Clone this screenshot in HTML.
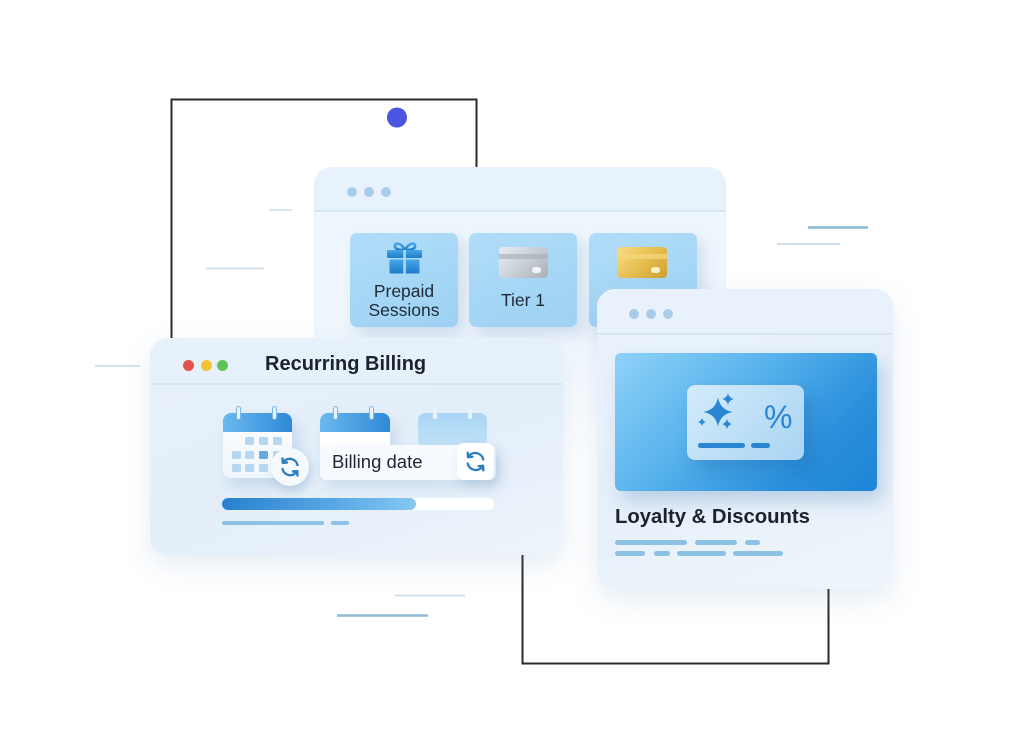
<!DOCTYPE html>
<html><head><meta charset="utf-8">
<style>
*{margin:0;padding:0;box-sizing:border-box}
html,body{width:1024px;height:746px;background:#fff;overflow:hidden;font-family:"Liberation Sans",sans-serif}
.abs{position:absolute}
.win{position:absolute;border-radius:18px;overflow:hidden}
.dot{position:absolute;width:10px;height:10px;border-radius:50%}
.ln{position:absolute;height:5px;border-radius:3px;background:#8cc0e4}
.tile{position:absolute;width:108px;height:94px;border-radius:7px;background:linear-gradient(160deg,#b0ddf8,#9ed1f3);box-shadow:6px 8px 14px rgba(110,150,195,.25)}
.tile .t{position:absolute;left:0;right:0;text-align:center;font-size:17.5px;color:#1f2a38;line-height:18px}
</style></head><body>

<svg class="abs" style="left:0;top:0" width="1024" height="746">
  <polyline points="171.5,340 171.5,99.5 476.5,99.5 476.5,170" fill="none" stroke="#2a2a2a" stroke-width="2"/>
  <polyline points="522.5,550 522.5,663.5 828.5,663.5 828.5,585" fill="none" stroke="#2a2a2a" stroke-width="2"/>
  <line x1="95" y1="366" x2="140" y2="366" stroke="#d3e3ee" stroke-width="2"/>
  <line x1="206" y1="268.5" x2="264" y2="268.5" stroke="#d3e3ee" stroke-width="2"/>
  <line x1="269" y1="210" x2="292" y2="210" stroke="#d8e6f0" stroke-width="2"/>
  <line x1="808" y1="227.5" x2="868" y2="227.5" stroke="#8ab8d4" stroke-width="2.5"/>
  <line x1="777" y1="244" x2="840" y2="244" stroke="#cfe1ee" stroke-width="2"/>
  <line x1="395" y1="595.5" x2="465" y2="595.5" stroke="#cfe1ee" stroke-width="2"/>
  <line x1="337" y1="615.5" x2="428" y2="615.5" stroke="#8fbbd6" stroke-width="2.5"/>
  <circle cx="397" cy="117.5" r="10" fill="#4a55e0"/>
</svg>

<!-- top window (tiers) -->
<div class="win" style="left:314px;top:167px;width:412px;height:300px;border-radius:18px 18px 0 0;background:linear-gradient(180deg,#edf5fd 0%,#f0f6fd 50%,rgba(246,250,254,.6) 80%,rgba(255,255,255,0) 100%)">
  <div class="abs" style="left:0;top:0;width:412px;height:45px;background:#e8f2fc;border-bottom:2px solid #d8e7f4"></div>
  <div class="dot" style="left:33px;top:20px;background:#a8cde9"></div>
  <div class="dot" style="left:50px;top:20px;background:#a8cde9"></div>
  <div class="dot" style="left:67px;top:20px;background:#a8cde9"></div>
</div>

<div class="tile" style="left:350px;top:233px">
  <svg class="abs" style="left:37px;top:8px" width="36" height="33" viewBox="0 0 36 33">
    <defs><linearGradient id="gg" x1="0" y1="0" x2="0" y2="1"><stop offset="0" stop-color="#48a6e6"/><stop offset="1" stop-color="#1f7bcb"/></linearGradient></defs>
    <path d="M18 9 C14 1 7 1 8 6 C9 9 14 9 18 9 C22 9 27 9 28 6 C29 1 22 1 18 9Z" fill="none" stroke="url(#gg)" stroke-width="2.6"/>
    <rect x="0" y="9" width="35" height="8" rx="1.5" fill="url(#gg)"/>
    <rect x="2.5" y="18.5" width="30" height="14" rx="1" fill="url(#gg)"/>
    <rect x="16.3" y="9" width="2.6" height="24" fill="#a9d9f6"/>
  </svg>
  <div class="t" style="top:49px">Prepaid</div>
  <div class="t" style="top:68px">Sessions</div>
</div>
<div class="tile" style="left:469px;top:233px">
  <div class="abs" style="left:30px;top:14px;width:49px;height:31px;border-radius:4px;background:linear-gradient(135deg,#e9edf1 0%,#c9d0d6 50%,#a8b0b8 100%)"></div>
  <div class="abs" style="left:30px;top:21px;width:49px;height:5px;background:#a9b3bc;opacity:.7"></div>
  <div class="abs" style="left:63px;top:34px;width:9px;height:6px;border-radius:3px;background:#f3f5f7"></div>
  <div class="t" style="top:58px">Tier 1</div>
</div>
<div class="tile" style="left:589px;top:233px">
  <div class="abs" style="left:28px;top:14px;width:50px;height:31px;border-radius:4px;background:linear-gradient(135deg,#f7dc85 0%,#e7bf52 50%,#cf9f30 100%)"></div>
  <div class="abs" style="left:28px;top:21px;width:50px;height:5px;background:#f2d47a;opacity:.8"></div>
  <div class="abs" style="left:62px;top:34px;width:9px;height:6px;border-radius:3px;background:#fbefc4"></div>
</div>

<!-- Recurring Billing window -->
<div class="win" style="left:150px;top:338px;width:413px;height:217px;background:linear-gradient(160deg,#e9f2fc 0%,#e3eef9 50%,#edf4fb 100%);box-shadow:0 10px 28px rgba(110,150,195,.18)">
  <div class="abs" style="left:0;top:0;width:413px;height:47px;background:#e7f1fb;border-bottom:2px solid #d5e5f3"></div>
  <div class="dot" style="left:33px;top:22px;width:11px;height:11px;background:#e2514a"></div>
  <div class="dot" style="left:51px;top:22px;width:11px;height:11px;background:#f4c232"></div>
  <div class="dot" style="left:67px;top:22px;width:11px;height:11px;background:#5ec455"></div>
  <div class="abs" style="left:115px;top:14px;font-size:20px;font-weight:bold;color:#1b2230;line-height:24px">Recurring Billing</div>

  <div class="abs" style="left:268px;top:75px;width:69px;height:34px;border-radius:7px;background:linear-gradient(180deg,#a9d5f4,#c3e2f7)"></div>
  <div class="abs" style="left:283px;top:69px;width:4px;height:12px;border-radius:2px;background:#e8f3fc"></div>
  <div class="abs" style="left:318px;top:69px;width:4px;height:12px;border-radius:2px;background:#e8f3fc"></div>

  <div class="abs" style="left:73px;top:75px;width:69px;height:65px;border-radius:8px;background:linear-gradient(180deg,#ffffff,#eef5fc);box-shadow:6px 8px 14px rgba(110,150,195,.25);overflow:hidden">
    <div class="abs" style="left:0;top:0;width:69px;height:19px;background:linear-gradient(90deg,#6bb9ef,#2e89d6)"></div>
  </div>
  <div class="abs" style="left:86px;top:68px;width:5px;height:14px;border-radius:3px;background:#eaf4fc;border:1px solid #7ab8e6"></div>
  <div class="abs" style="left:122px;top:68px;width:5px;height:14px;border-radius:3px;background:#eaf4fc;border:1px solid #7ab8e6"></div>
  <svg class="abs" style="left:82px;top:99px" width="50" height="40">
    <g fill="#b6d7f1">
      <rect x="13" y="0" width="9" height="8" rx="1.5"/><rect x="27" y="0" width="9" height="8" rx="1.5"/><rect x="41" y="0" width="9" height="8" rx="1.5"/>
      <rect x="0" y="14" width="9" height="8" rx="1.5"/><rect x="13" y="14" width="9" height="8" rx="1.5"/><rect x="27" y="14" width="9" height="8" rx="1.5" fill="#6aa8da"/><rect x="41" y="14" width="9" height="8" rx="1.5"/>
      <rect x="0" y="27" width="9" height="8" rx="1.5"/><rect x="13" y="27" width="9" height="8" rx="1.5"/><rect x="27" y="27" width="9" height="8" rx="1.5"/>
    </g>
  </svg>

  <div class="abs" style="left:170px;top:75px;width:70px;height:40px;border-radius:8px 8px 0 0;background:#fff;overflow:hidden;box-shadow:6px 8px 14px rgba(110,150,195,.2)">
    <div class="abs" style="left:0;top:0;width:70px;height:19px;background:linear-gradient(90deg,#6bb9ef,#2e89d6)"></div>
  </div>
  <div class="abs" style="left:183px;top:68px;width:5px;height:14px;border-radius:3px;background:#eaf4fc;border:1px solid #7ab8e6"></div>
  <div class="abs" style="left:219px;top:68px;width:5px;height:14px;border-radius:3px;background:#eaf4fc;border:1px solid #7ab8e6"></div>

  <div class="abs" style="left:121px;top:110px;width:38px;height:38px;border-radius:50%;background:#f6fafe;box-shadow:3px 5px 10px rgba(110,150,195,.3)">
    <svg class="abs" style="left:7px;top:7px" width="24" height="24" viewBox="0 0 24 24" fill="none" stroke="#2c7fbf" stroke-width="2.4" stroke-linecap="round" stroke-linejoin="round">
      <path d="M19.5 10 A8 8 0 0 0 5 7.5"/><polyline points="4.5,3.5 4.8,7.8 9,7.5"/>
      <path d="M4.5 14 A8 8 0 0 0 19 16.5"/><polyline points="19.5,20.5 19.2,16.2 15,16.5"/>
    </svg>
  </div>

  <div class="abs" style="left:170px;top:107px;width:176px;height:35px;border-radius:6px;background:#f7fafe;box-shadow:6px 8px 14px rgba(110,150,195,.2)"></div>
  <div class="abs" style="left:182px;top:113px;font-size:18.5px;color:#1f2733;line-height:22px">Billing date</div>
  <div class="abs" style="left:307px;top:105px;width:37px;height:37px;border-radius:7px;background:#fff;box-shadow:3px 5px 10px rgba(110,150,195,.28)">
    <svg class="abs" style="left:6px;top:6px" width="25" height="25" viewBox="0 0 24 24" fill="none" stroke="#2c7fbf" stroke-width="2.3" stroke-linecap="round" stroke-linejoin="round">
      <path d="M19.5 10 A8 8 0 0 0 5 7.5"/><polyline points="4.5,3.5 4.8,7.8 9,7.5"/>
      <path d="M4.5 14 A8 8 0 0 0 19 16.5"/><polyline points="19.5,20.5 19.2,16.2 15,16.5"/>
    </svg>
  </div>

  <div class="abs" style="left:72px;top:160px;width:272px;height:12px;border-radius:6px;background:#fff"></div>
  <div class="abs" style="left:72px;top:160px;width:194px;height:12px;border-radius:6px;background:linear-gradient(90deg,#2a80cf,#5aa9e6 60%,#86c8f2)"></div>
  <div class="ln" style="left:72px;top:183px;width:102px;height:4px;background:#8fc1e4"></div>
  <div class="ln" style="left:181px;top:183px;width:18px;height:4px;background:#8fc1e4"></div>
</div>

<!-- Loyalty window -->
<div class="win" style="left:597px;top:289px;width:296px;height:300px;background:linear-gradient(160deg,#eaf3fc 0%,#e6f0fa 50%,#eef4fb 100%);box-shadow:0 10px 28px rgba(110,150,195,.18)">
  <div class="abs" style="left:0;top:0;width:296px;height:46px;background:#e9f2fc;border-bottom:2px solid #d5e5f3"></div>
  <div class="dot" style="left:32px;top:20px;background:#a8cde9"></div>
  <div class="dot" style="left:49px;top:20px;background:#a8cde9"></div>
  <div class="dot" style="left:66px;top:20px;background:#a8cde9"></div>
  <div class="abs" style="left:18px;top:64px;width:262px;height:138px;border-radius:6px;background:linear-gradient(135deg,#8fd2f8 0%,#58b3ec 40%,#2a8fdc 75%,#1d86d6 100%);box-shadow:6px 10px 18px rgba(80,130,180,.3)"></div>
  <div class="abs" style="left:90px;top:96px;width:117px;height:75px;border-radius:8px;background:linear-gradient(135deg,#d4ebfb,#a9d4f3);box-shadow:8px 10px 16px rgba(30,100,170,.3)">
    <svg class="abs" style="left:0;top:0" width="117" height="75">
      <g fill="#2a86d2">
        <path d="M31 12 Q33 25 46 27 Q33 29 31 42 Q29 29 16 27 Q29 25 31 12Z"/>
        <path d="M41 8 Q42 13 47 14 Q42 15 41 20 Q40 15 35 14 Q40 13 41 8Z"/>
        <path d="M15 33 Q15.8 36.2 19 37 Q15.8 37.8 15 41 Q14.2 37.8 11 37 Q14.2 36.2 15 33Z"/>
        <path d="M40 34 Q41 38 45 39 Q41 40 40 44 Q39 40 35 39 Q39 38 40 34Z"/>
        <rect x="11" y="58" width="47" height="5" rx="2.5"/>
        <rect x="64" y="58" width="19" height="5" rx="2.5"/>
      </g>
      <text x="77" y="43" font-family="Liberation Sans" font-size="32" fill="#2a86d2">%</text>
    </svg>
  </div>
  <div class="abs" style="left:18px;top:216px;font-size:20.3px;font-weight:bold;color:#1b2230;line-height:24px">Loyalty &amp; Discounts</div>
  <div class="ln" style="left:18px;top:251px;width:72px"></div>
  <div class="ln" style="left:98px;top:251px;width:42px"></div>
  <div class="ln" style="left:148px;top:251px;width:15px"></div>
  <div class="ln" style="left:18px;top:262px;width:30px"></div>
  <div class="ln" style="left:57px;top:262px;width:16px"></div>
  <div class="ln" style="left:80px;top:262px;width:49px"></div>
  <div class="ln" style="left:136px;top:262px;width:50px"></div>
</div>

</body></html>
